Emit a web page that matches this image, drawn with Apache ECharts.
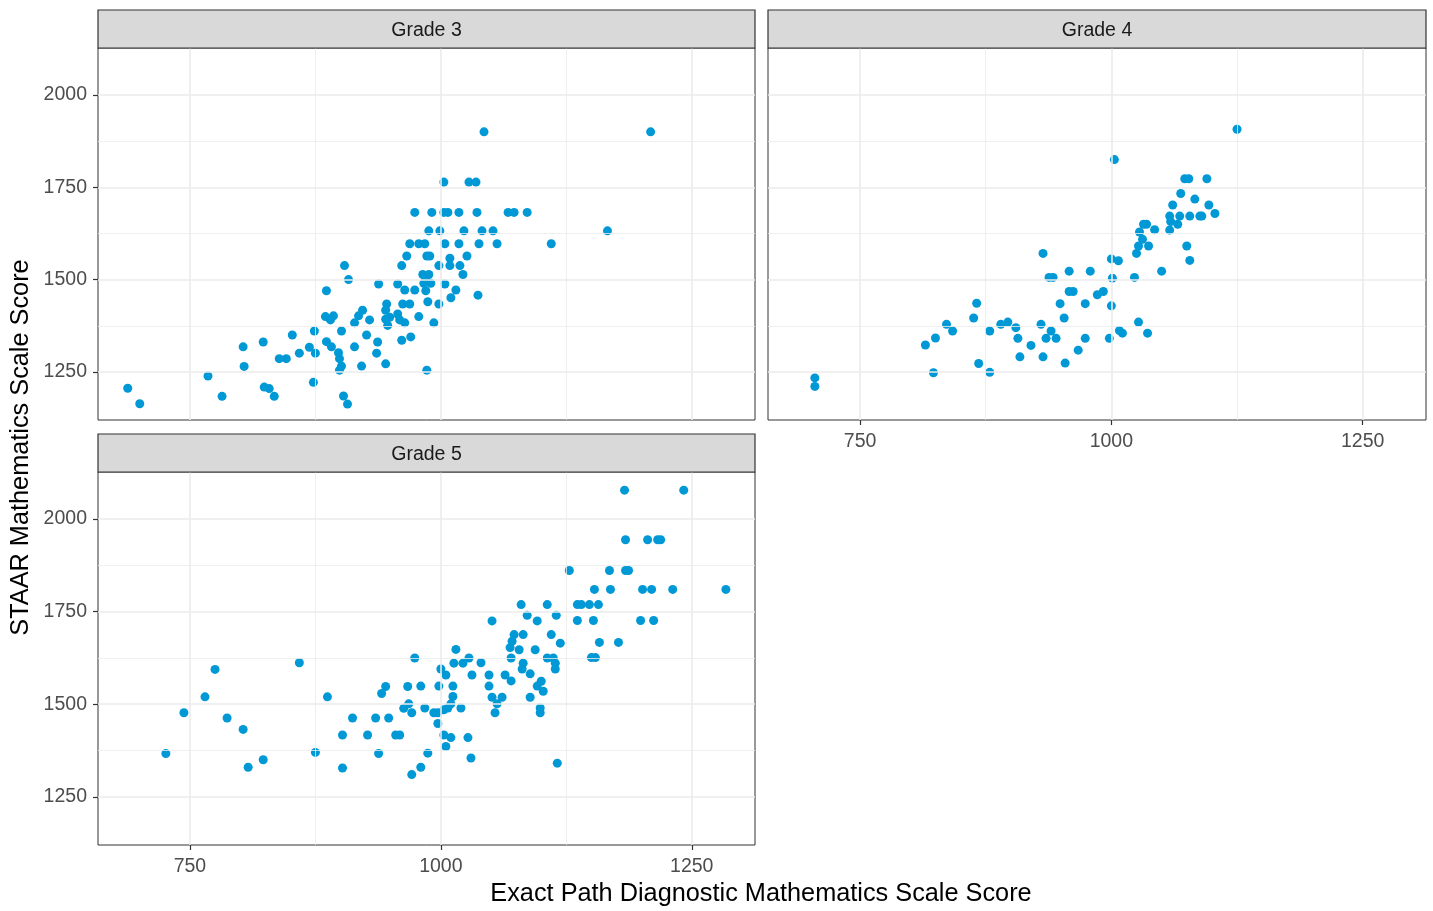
<!DOCTYPE html>
<html><head><meta charset="utf-8">
<script src="https://cdn.jsdelivr.net/npm/echarts@6/dist/echarts.min.js"></script>
<style>html,body{margin:0;padding:0;background:#fff}#c{width:1433px;height:911px}</style>
</head><body><div id="c"></div>
<script>
// ---- data ----
const panelNames = ['Grade 3', 'Grade 4', 'Grade 5'];
const xTitle = 'Exact Path Diagnostic Mathematics Scale Score';
const yTitle = 'STAAR Mathematics Scale Score';
const xTicks = [750, 1000, 1250];
const xMinor = [875, 1125];
const yTicks = [1250, 1500, 1750, 2000];
const yMinor = [1375, 1625, 1875];
const xRange = [658.4, 1313];
const yRange = [1120, 2127];

const grade3 = [[688,1206],[700,1164],[768,1239],[782,1184],[803,1318],[804,1265],[823,1331],[824,1209],[829,1205],[834,1184],[839,1286],[846,1286],[852,1350],[859,1301],[869,1317],[874,1361],[875,1301],[873,1222],[886,1470],[885,1400],[890,1391],[893,1402],[886,1332],[891,1318],[898,1302],[899,1286],[901,1266],[899,1255],[901,1361],[904,1538],[908,1500],[903,1185],[907,1163],[914,1318],[918,1402],[922,1417],[914,1383],[929,1391],[921,1266],[926,1350],[936,1301],[937,1331],[938,1488],[946,1434],[945,1417],[945,1393],[949,1398],[947,1376],[945,1272],[957,1407],[959,1391],[964,1383],[957,1488],[961,1538],[962,1434],[969,1434],[961,1336],[970,1345],[964,1472],[966,1564],[969,1597],[978,1597],[984,1597],[974,1682],[974,1472],[978,1400],[982,1514],[988,1514],[983,1490],[990,1490],[985,1470],[986,1564],[989,1564],[987,1440],[986,1255],[991,1682],[988,1632],[993,1383],[998,1434],[998,1538],[999,1632],[1003,1764],[1003,1682],[1007,1682],[1004,1597],[1004,1488],[1009,1558],[1009,1538],[1010,1451],[1015,1472],[1018,1597],[1018,1682],[1019,1538],[1022,1514],[1023,1632],[1026,1564],[1028,1764],[1035,1764],[1036,1682],[1037,1458],[1038,1597],[1041,1632],[1043,1900],[1052,1632],[1056,1597],[1067,1682],[1073,1682],[1086,1682],[1110,1597],[1166,1632],[1209,1900],[985,1499]];

const grade4 = [[705,1234],[705,1211],[815,1323],[825,1342],[836,1379],[842,1361],[863,1396],[866,1436],[823,1248],[868,1273],[879,1361],[879,1249],[890,1379],[897,1385],[905,1370],[907,1341],[920,1322],[909,1291],[930,1379],[940,1361],[935,1341],[945,1341],[932,1291],[953,1396],[954,1274],[967,1309],[974,1341],[998,1341],[1008,1362],[1011,1355],[1027,1385],[1036,1355],[1125,1907],[1003,1825],[1073,1773],[1077,1773],[1095,1773],[1069,1733],[1083,1718],[1061,1702],[1097,1702],[1058,1672],[1068,1672],[1078,1672],[1088,1672],[1090,1672],[1103,1679],[1059,1657],[1066,1650],[1058,1634],[1032,1650],[1035,1650],[1043,1635],[1028,1629],[1031,1609],[1027,1591],[1037,1591],[1025,1571],[1075,1591],[1078,1552],[932,1571],[1000,1556],[1007,1551],[958,1523],[979,1523],[1050,1523],[938,1506],[942,1506],[1001,1504],[1023,1506],[958,1468],[962,1468],[986,1459],[992,1468],[949,1435],[974,1435],[1000,1429]];

const grade5 = [[726,1367],[744,1477],[765,1520],[775,1594],[787,1463],[803,1432],[808,1330],[823,1350],[859,1612],[875,1370],[887,1520],[902,1417],[902,1328],[912,1463],[927,1417],[935,1463],[938,1367],[941,1529],[945,1548],[948,1463],[955,1417],[959,1417],[967,1548],[963,1489],[968,1501],[971,1477],[974,1625],[971,1310],[980,1549],[998,1549],[1012,1549],[984,1490],[1010,1501],[1007,1490],[1003,1485],[1020,1490],[993,1477],[997,1477],[997,1448],[1003,1417],[1010,1410],[1027,1410],[1005,1386],[1030,1355],[987,1368],[980,1330],[1012,1521],[1000,1595],[1005,1579],[1013,1611],[1022,1611],[1028,1625],[1015,1648],[1031,1579],[1040,1612],[1048,1579],[1048,1549],[1051,1519],[1056,1501],[1054,1477],[1061,1519],[1064,1579],[1070,1563],[1051,1725],[1073,1688],[1082,1688],[1110,1688],[1071,1670],[1069,1653],[1078,1647],[1094,1647],[1070,1625],[1082,1611],[1081,1595],[1089,1582],[1106,1625],[1112,1625],[1114,1611],[1114,1595],[1100,1562],[1096,1549],[1102,1535],[1089,1519],[1099,1490],[1099,1477],[1116,1341],[1096,1725],[1119,1665],[1183,2078],[1242,2078],[1184,1944],[1206,1944],[1216,1944],[1219,1944],[1128,1861],[1168,1861],[1184,1861],[1187,1861],[1153,1810],[1169,1810],[1201,1810],[1210,1810],[1231,1810],[1284,1810],[1080,1769],[1106,1769],[1136,1769],[1140,1769],[1148,1769],[1157,1769],[1086,1740],[1115,1740],[1136,1726],[1152,1726],[1199,1726],[1212,1726],[1158,1667],[1177,1667],[1150,1626],[1154,1626]];

const panelData = [grade3, grade4, grade5];

// ---- layout / style ----
const FONT = '"Liberation Sans", Arial, Helvetica, sans-serif';
const POINT = '#0099D6';
const grids = [
  {left: 98, top: 48, width: 657, height: 372},
  {left: 768, top: 48, width: 658, height: 372},
  {left: 98, top: 472, width: 657, height: 373}
];
const showX = [false, true, true];
const showY = [true, false, true];
const plain = v => String(Math.round(v));

const chart = echarts.init(document.getElementById('c'), null, {renderer: 'canvas'});

const option = {
  animation: false,
  backgroundColor: '#ffffff',
  grid: grids.map(g => Object.assign({show: true, backgroundColor: '#ffffff', borderColor: '#333333', borderWidth: 1, containLabel: false}, g)),
  xAxis: grids.map((g, i) => ({
    gridIndex: i, type: 'value', min: xRange[0], max: xRange[1],
    axisLine: {show: false}, splitLine: {show: false},
    axisTick: {show: showX[i], customValues: xTicks, length: 5, lineStyle: {color: '#333333', width: 1.2}},
    axisLabel: {show: showX[i], customValues: xTicks, formatter: plain, color: '#4d4d4d', fontSize: 19.5, fontFamily: FONT, margin: 12}
  })),
  yAxis: grids.map((g, i) => ({
    gridIndex: i, type: 'value', min: yRange[0], max: yRange[1],
    axisLine: {show: false}, splitLine: {show: false},
    axisTick: {show: showY[i], customValues: yTicks, length: 5, lineStyle: {color: '#333333', width: 1.2}},
    axisLabel: {show: showY[i], customValues: yTicks, formatter: plain, color: '#4d4d4d', fontSize: 19.5, fontFamily: FONT, margin: 11}
  })),
  series: [],
  graphic: []
};

grids.forEach((g, i) => {
  const lines = [];
  xMinor.forEach(v => lines.push({xAxis: v, lineStyle: {width: 0.8}}));
  yMinor.forEach(v => lines.push({yAxis: v, lineStyle: {width: 0.8}}));
  xTicks.forEach(v => lines.push({xAxis: v}));
  yTicks.forEach(v => lines.push({yAxis: v}));
  option.series.push({
    type: 'scatter', xAxisIndex: i, yAxisIndex: i, data: [], z: 1, silent: true,
    markLine: {
      silent: true, symbol: ['none', 'none'], animation: false,
      label: {show: false}, emphasis: {disabled: true},
      lineStyle: {color: '#ebebeb', width: 1.6, type: 'solid'},
      data: lines
    }
  });
  option.series.push({
    type: 'scatter', xAxisIndex: i, yAxisIndex: i, z: 3, silent: true,
    symbol: 'circle', symbolSize: 9,
    itemStyle: {color: POINT, opacity: 1},
    data: panelData[i]
  });
  option.graphic.push({
    type: 'rect', z: 10,
    shape: {x: g.left, y: g.top - 38, width: g.width, height: 38},
    style: {fill: '#d9d9d9', stroke: '#333333', lineWidth: 1.2}
  });
  option.graphic.push({
    type: 'text', z: 11, x: g.left + g.width / 2, y: g.top - 17,
    style: {text: panelNames[i], fill: '#1a1a1a', font: '19.5px ' + FONT,
      align: 'center', verticalAlign: 'middle', textAlign: 'center', textVerticalAlign: 'middle'}
  });
});

option.graphic.push({
  type: 'text', z: 11, x: 761, y: 894,
  style: {text: xTitle, fill: '#000000', font: '25.3px ' + FONT,
    align: 'center', verticalAlign: 'middle', textAlign: 'center', textVerticalAlign: 'middle'}
});
option.graphic.push({
  type: 'text', z: 11, x: 21, y: 447.5, rotation: Math.PI / 2,
  style: {text: yTitle, fill: '#000000', font: '25.3px ' + FONT,
    align: 'center', verticalAlign: 'middle', textAlign: 'center', textVerticalAlign: 'middle'}
});

chart.setOption(option);
</script>
</body></html>
